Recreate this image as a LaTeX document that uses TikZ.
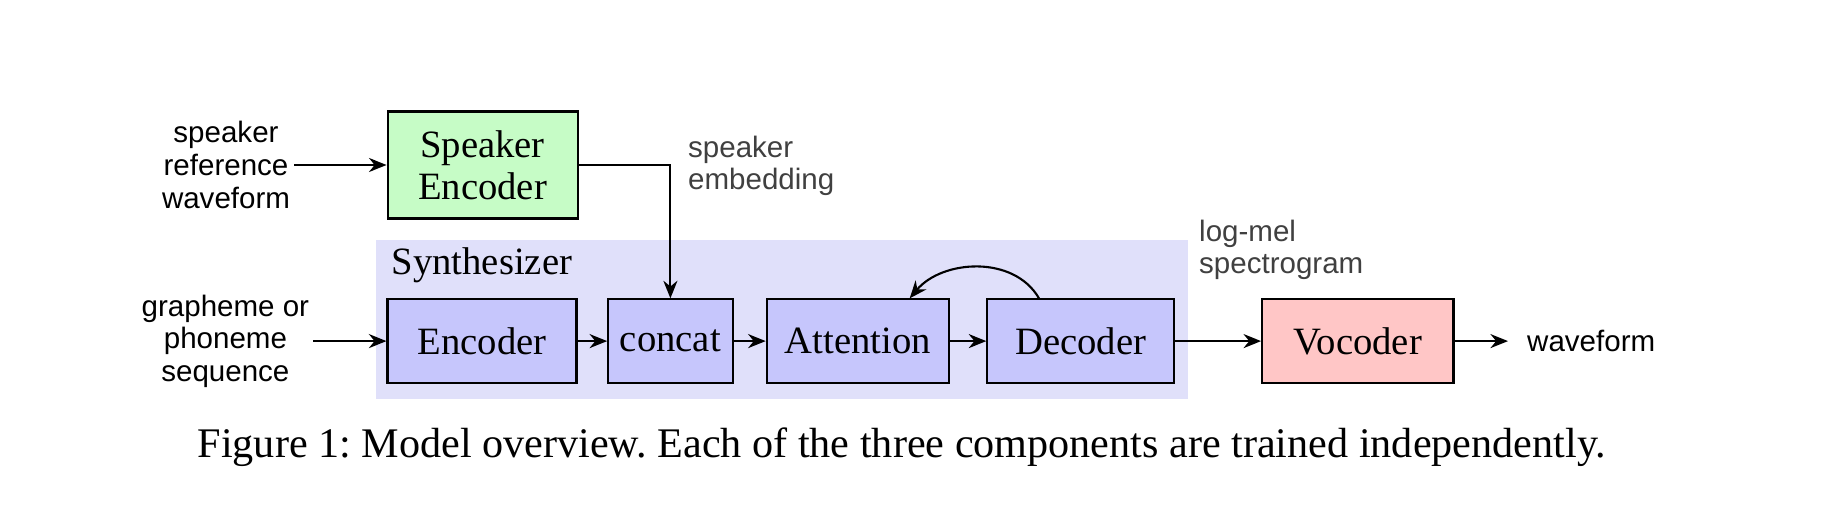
\documentclass[tikz,border=0pt]{standalone}
\usepackage{fontspec}
\setmainfont{Liberation Serif}
\setsansfont{Liberation Sans}
\usetikzlibrary{arrows.meta,positioning,backgrounds}
\definecolor{spkgreen}{RGB}{198,252,198}
\definecolor{synbox}{RGB}{198,198,252}
\definecolor{synbg}{RGB}{224,224,250}
\definecolor{vocpink}{RGB}{255,198,198}
\tikzset{
  blk/.style={rectangle, draw, line width=0.6pt, minimum height=0.834cm, inner sep=0pt, font=\fontsize{11}{12}\selectfont},
  lbl/.style={font=\sffamily\fontsize{8.4}{9.3}\selectfont, align=center, inner sep=1pt},
  glbl/.style={font=\sffamily\fontsize{8.4}{9.3}\selectfont, align=left, text=black!75, inner sep=1pt},
  arr/.style={-{Stealth[length=5pt,width=4pt]}, line width=0.6pt},
}

\begin{document}
\frenchspacing
\begin{tikzpicture}
  \useasboundingbox (0,0) rectangle (18.41,5.25);

  %% ============================================
  %% SYNTHESIZER background
  %% ============================================
  \fill[synbg] (3.757,1.258) rectangle (11.882,2.855);
  \node[anchor=west, inner sep=0pt, font=\fontsize{11}{12}\selectfont] (synth) at (3.91,2.60) {Synthesizer};

  % Speaker encoder
  \node[blk, fill=spkgreen, minimum width=1.90cm, minimum height=1.07cm, align=center] (spk) at (4.826,3.60) {Speaker\\Encoder};

  % Synthesizer row
  \node[blk, fill=synbox, minimum width=1.89cm] (enc) at (4.82,1.839) {Encoder};
  \node[blk, fill=synbox, minimum width=1.244cm] (cat) at (6.704,1.839) {concat};
  \node[blk, fill=synbox, minimum width=1.82cm] (att) at (8.577,1.839) {Attention};
  \node[blk, fill=synbox, minimum width=1.867cm] (dec) at (10.807,1.839) {Decoder};

  % Vocoder
  \node[blk, fill=vocpink, minimum width=1.913cm] (voc) at (13.578,1.839) {Vocoder};

  % Inputs and outputs
  \node[lbl] (ref) at (2.26,3.60) {speaker\\reference\\waveform};
  \node[lbl] (graph) at (2.254,1.839) {grapheme or\\phoneme\\sequence};
  \node[lbl, anchor=west] (wav) at (15.23,1.839) {waveform};

  % Intermediate labels
  \node[glbl, anchor=west] (emb) at (6.84,3.59) {speaker\\embedding};
  \node[glbl, anchor=west] (mel) at (11.95,2.75) {log-mel\\spectrogram};

  %% ============================================
  %% CONNECTIONS
  %% ============================================
  \draw[arr] (ref.east) -- (spk.west);
  \draw[arr] (spk.east) -| (cat.north);
  \draw[arr] (graph.east) -- (enc.west);
  \draw[arr] (enc) -- (cat);
  \draw[arr] (cat) -- (att);
  \draw[arr] (att) -- (dec);
  \draw[arr] ([xshift=-0.417cm]dec.north) to[out=120, in=50] ([xshift=0.52cm]att.north);
  \draw[arr] (dec) -- (voc);
  \draw[arr] (voc.east) -- ([xshift=-0.15cm]wav.west);

  % Caption
  \node[font=\fontsize{12}{14}\selectfont] (cap) at (9.017,0.777) {Figure 1: Model overview. Each of the three components are trained independently.};
\end{tikzpicture}
\end{document}
